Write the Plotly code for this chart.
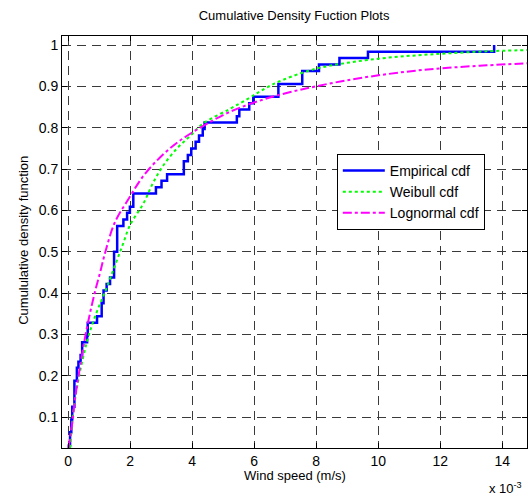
import plotly.graph_objects as go

# Wind speed values are in units of 1e-3 m/s (axis shows "x 10^-3")
emp_x = [0.01, 0.02, 0.06, 0.10, 0.13, 0.20, 0.28, 0.33, 0.40, 0.45, 0.61, 0.63,
         0.93, 1.08, 1.14, 1.24, 1.35, 1.48, 1.58, 1.78, 1.90, 1.99, 2.10, 2.83,
         3.01, 3.19, 3.73, 3.86, 3.97, 4.11, 4.22, 4.34, 4.40, 5.44, 5.52, 5.84,
         5.97, 6.78, 7.55, 8.09, 8.75, 9.67, 13.74]
emp_y = [0.0, 0.031, 0.063, 0.094, 0.125, 0.1875, 0.219, 0.234, 0.25, 0.281, 0.297, 0.328,
         0.344, 0.375, 0.406, 0.422, 0.4375, 0.5, 0.5625, 0.578, 0.594, 0.609, 0.641, 0.656,
         0.672, 0.6875, 0.719, 0.734, 0.75, 0.766, 0.781, 0.797, 0.8125, 0.828, 0.844, 0.859,
         0.875, 0.906, 0.9375, 0.953, 0.969, 0.984, 1.0]

wbl_x = [0.06, 0.17, 0.33, 0.5, 0.65, 0.9, 1.2, 1.5, 1.75, 2.0, 2.42, 2.74, 3.06, 3.5,
         3.93, 4.35, 5.2, 5.84, 6.3, 6.9, 7.95, 9.0, 10.12, 11.2, 12.26, 13.5, 14.8]
wbl_y = [0.025, 0.115, 0.19, 0.25, 0.295, 0.35, 0.405, 0.465, 0.515, 0.565, 0.616, 0.667,
         0.708, 0.749, 0.78, 0.81, 0.845, 0.872, 0.893, 0.915, 0.942, 0.957, 0.968, 0.975,
         0.98, 0.985, 0.988]

logn_x = [0.01, 0.05, 0.13, 0.23, 0.4, 0.55, 0.7, 0.87, 1.03, 1.2, 1.5, 1.99, 2.42, 2.96,
          3.5, 4.03, 4.6, 5.2, 5.84, 6.5, 7.2, 7.98, 9.0, 10.12, 11.2, 12.26, 13.5, 14.8]
logn_y = [0.025, 0.045, 0.085, 0.15, 0.23, 0.295, 0.35, 0.405, 0.45, 0.50, 0.57, 0.633,
          0.683, 0.728, 0.763, 0.79, 0.815, 0.838, 0.857, 0.873, 0.887, 0.90, 0.915, 0.928,
          0.938, 0.945, 0.951, 0.956]

x_ticks = [0, 2, 4, 6, 8, 10, 12, 14]
x_tick_labels = ["0", "2", "4", "6", "8", "10", "12", "14"]
y_ticks = [0.1, 0.2, 0.3, 0.4, 0.5, 0.6, 0.7, 0.8, 0.9, 1.0]
y_tick_labels = ["0.1", "0.2", "0.3", "0.4", "0.5", "0.6", "0.7", "0.8", "0.9", "1"]

FONT = "Arial, 'Liberation Sans', sans-serif"

fig = go.Figure()
fig.add_trace(go.Scatter(x=emp_x, y=emp_y, mode="lines", name="Empirical cdf",
                         line=dict(color="#0000FF", width=2.5, shape="hv")))
fig.add_trace(go.Scatter(x=wbl_x, y=wbl_y, mode="lines", name="Weibull cdf",
                         line=dict(color="#00FF00", width=2, dash="dot", shape="spline")))
fig.add_trace(go.Scatter(x=logn_x, y=logn_y, mode="lines", name="Lognormal cdf",
                         line=dict(color="#FF00FF", width=2, dash="dashdot", shape="spline")))

axis_common = dict(
    showline=True, linecolor="black", linewidth=1, mirror="ticks",
    ticks="inside", ticklen=5, tickcolor="black", tickwidth=1,
    showgrid=True, gridcolor="#3a3a3a", gridwidth=1, griddash="9px,6px",
    zeroline=False, tickfont=dict(family=FONT, size=14, color="black"),
)

fig.update_xaxes(range=[-0.2, 14.8], tickvals=x_ticks, ticktext=x_tick_labels, **axis_common)
fig.update_yaxes(range=[0.025, 1.022], tickvals=y_ticks, ticktext=y_tick_labels, **axis_common)

fig.update_layout(
    width=528, height=495,
    margin=dict(l=62, r=1, t=36, b=47),
    paper_bgcolor="white", plot_bgcolor="white",
    font=dict(family=FONT, color="black"),
    title=dict(text="Cumulative Density Fuction Plots", x=0.557, xanchor="center",
               y=1 - 15 / 495, yanchor="middle", yref="container",
               font=dict(family=FONT, size=13, color="black")),
    showlegend=True,
    legend=dict(x=0.591, y=0.714, xanchor="left", yanchor="top",
                bgcolor="white", bordercolor="black", borderwidth=1, itemwidth=42,
                font=dict(family=FONT, size=14, color="black")),
    annotations=[
        dict(text="Wind speed (m/s)", xref="paper", yref="paper", x=0.5, y=-0.066,
             xanchor="center", yanchor="middle", showarrow=False,
             font=dict(family=FONT, size=13, color="black")),
        dict(text="Cumululative density function", xref="paper", yref="paper",
             x=-0.082, y=0.505, xanchor="center", yanchor="middle", textangle=-90,
             showarrow=False, font=dict(family=FONT, size=13, color="black")),
        dict(text="x 10<sup>-3</sup>", xref="paper", yref="paper", x=0.953, y=-0.097,
             xanchor="center", yanchor="middle", showarrow=False,
             font=dict(family=FONT, size=13, color="black")),
    ],
)

fig.write_html("out.html")
